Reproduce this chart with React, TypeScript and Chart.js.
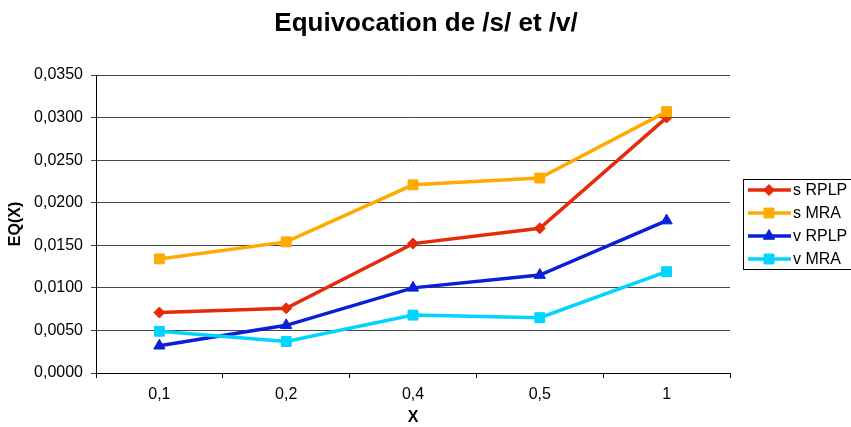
import React, { useEffect, useRef } from "react";
import { Chart, registerables } from "chart.js";
import { drawPoint } from "chart.js/helpers";
Chart.register(...registerables);

const titleText = "Equivocation de /s/ et /v/";
const xTitle = "X";
const yTitle = "EQ(X)";
const categories = ["0,1", "0,2", "0,4", "0,5", "1"];
const seriesNames = ["s RPLP", "s MRA", "v RPLP", "v MRA"];
const sRPLP = [0.0071, 0.0076, 0.0152, 0.017, 0.03];
const sMRA = [0.0134, 0.0154, 0.0221, 0.0229, 0.0307];
const vRPLP = [0.0032, 0.0056, 0.01, 0.0115, 0.0179];
const vMRA = [0.0049, 0.0037, 0.0068, 0.0065, 0.0119];
const yMin = 0;
const yMax = 0.035;
const yStep = 0.005;

const FONT = "'Liberation Sans', Arial, sans-serif";

export default function App() {
  const ref = useRef<HTMLCanvasElement>(null);
  useEffect(() => {
    if (!ref.current) return;
    const colors = ["#E62A0A", "#FFAA00", "#0A20D8", "#00D4FF"];
    const styles = ["rectRot", "rect", "triangle", "rect"];
    const radii = [5.5, 7, 6.5, 7];
    const series = [sRPLP, sMRA, vRPLP, vMRA];

    const overlay = {
      id: "overlay",
      afterDraw(chart: any) {
        const ctx = chart.ctx;
        ctx.save();
        ctx.fillStyle = "#000";
        ctx.font = `bold 26px ${FONT}`;
        ctx.textAlign = "center";
        ctx.textBaseline = "alphabetic";
        ctx.fillText(titleText, 426, 31);

        ctx.lineWidth = 1;
        ctx.strokeStyle = "#000";
        ctx.strokeRect(743.5, 179.5, 130, 90);
        ctx.font = `16px ${FONT}`;
        ctx.textAlign = "left";
        ctx.textBaseline = "middle";
        chart.data.datasets.forEach((ds: any, i: number) => {
          const y = 190 + i * 23;
          ctx.strokeStyle = ds.borderColor;
          ctx.lineWidth = 3.5;
          ctx.beginPath();
          ctx.moveTo(748, y);
          ctx.lineTo(791, y);
          ctx.stroke();
          ctx.fillStyle = ds.pointBackgroundColor;
          ctx.strokeStyle = ds.pointBorderColor;
          ctx.lineWidth = 1;
          drawPoint(ctx, { pointStyle: ds.pointStyle, radius: ds.pointRadius, borderWidth: 1, rotation: 0 } as any, 769, y);
          ctx.fillStyle = "#000";
          ctx.fillText(ds.label, 793, y + 1);
        });
        ctx.restore();
      },
    };

    const chart = new Chart(ref.current, {
      type: "line",
      data: {
        labels: categories,
        datasets: series.map((d, i) => ({
          label: seriesNames[i],
          data: d,
          borderColor: colors[i],
          backgroundColor: colors[i],
          pointBackgroundColor: colors[i],
          pointBorderColor: colors[i],
          pointStyle: styles[i] as any,
          pointRadius: radii[i],
          pointBorderWidth: 1,
          borderWidth: 3.5,
          tension: 0,
          order: 4 - i,
        })),
      },
      options: {
        responsive: false,
        animation: false,
        layout: { padding: { top: 75, right: 121, left: 0, bottom: 0 } },
        plugins: {
          legend: { display: false },
          title: { display: false },
          tooltip: { enabled: false },
        },
        scales: {
          x: {
            type: "category",
            offset: true,
            grid: { display: true, drawOnChartArea: false, drawTicks: true, tickLength: 5, offset: true, color: "#000" },
            border: { display: true, color: "#000", width: 1 },
            ticks: { font: { size: 16, family: FONT }, color: "#000", padding: 7, maxRotation: 0 },
            title: { display: true, text: xTitle, font: { size: 16, weight: "bold", family: FONT }, color: "#000", padding: 0 },
            afterFit: (s: any) => { s.height = 54; },
          },
          y: {
            min: yMin,
            max: yMax,
            ticks: {
              stepSize: yStep,
              callback: (v: any) => Number(v).toFixed(4).replace(".", ","),
              font: { size: 16, family: FONT },
              color: "#000",
              padding: 8,
            },
            grid: { color: "#444", tickLength: 5, drawTicks: true },
            border: { display: true, color: "#000", width: 1 },
            title: { display: true, text: yTitle, font: { size: 16, weight: "bold", family: FONT }, color: "#000", padding: { top: 6, bottom: 0 } },
            afterFit: (s: any) => { s.width = 96; },
          },
        },
      },
      plugins: [overlay],
    });
    return () => chart.destroy();
  }, []);

  return (
    <div style={{ position: "absolute", left: 0, top: 0, width: 851, height: 427, background: "#fff" }}>
      <canvas ref={ref} width={851} height={427} style={{ display: "block" }} />
    </div>
  );
}
